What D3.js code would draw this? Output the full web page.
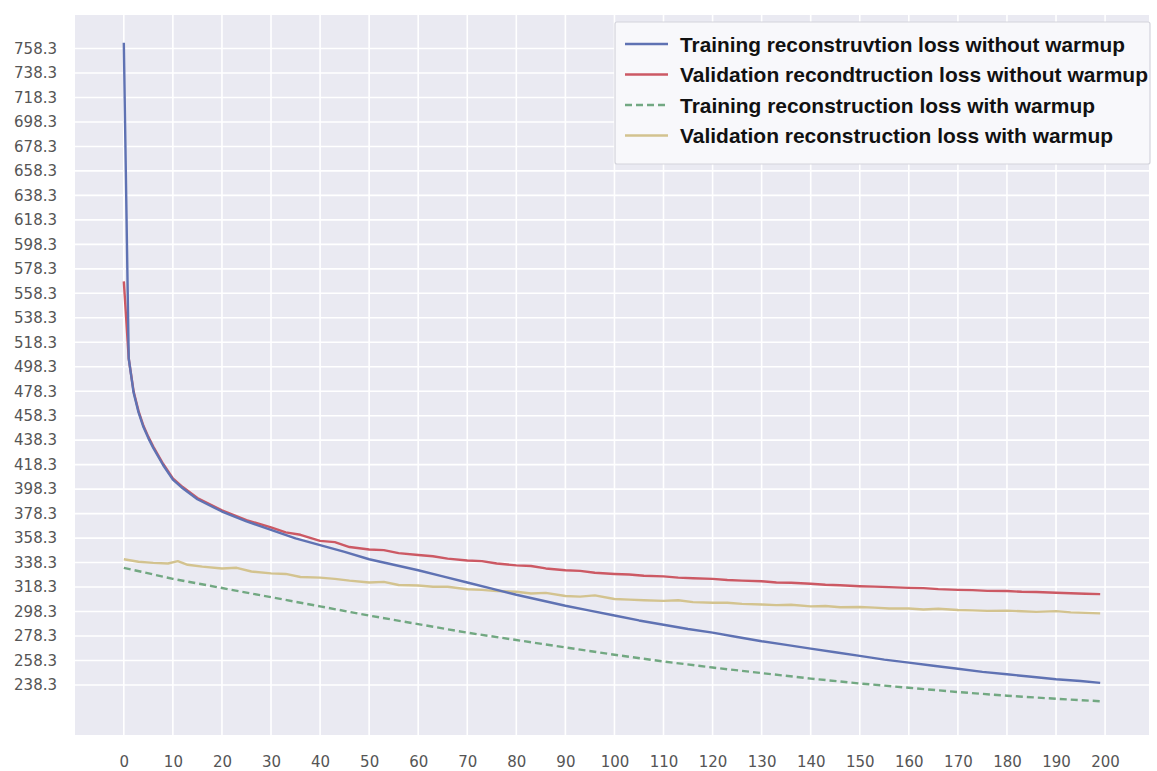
<!DOCTYPE html>
<html>
<head>
<meta charset="utf-8">
<script src="https://cdn.jsdelivr.net/npm/d3@7"></script>
<style>
  html, body { margin: 0; padding: 0; background: #ffffff; }
  svg { display: block; }
</style>
</head>
<body>
<svg id="chart" width="1157" height="771"></svg>
<script>
// ---------------- DATA ----------------
const seriesNames = [
  "Training reconstruvtion loss without warmup",
  "Validation recondtruction loss without warmup",
  "Training reconstruction loss with warmup",
  "Validation reconstruction loss with warmup"
];

const epochsTrainNoWarm = [0,1,2,3,4,5,6,8,10,12,15,20,25,30,35,40,45,50,55,60,65,70,75,80,85,90,95,100,105,110,115,120,125,130,135,140,145,150,155,160,165,170,175,180,185,190,195,199];
const trainNoWarm = [763,505,477,461,449,440,432,418,406,399,390,380,372,365,358,352.5,347,341,336.5,332,327,322,317,312,307.5,303,299,295,291,287.5,284,281,277.5,274,271,268,265,262,259,256.5,254,251.5,249,247,245,243,241.5,240];

const epochsValNoWarm = [0,1,2,3,4,5,6,8,10,12,15,20,25,30,33,36,40,43,46,50,53,56,60,63,66,70,73,76,80,83,86,90,93,96,100,103,106,110,113,116,120,123,126,130,133,136,140,143,146,150,153,156,160,163,166,170,173,176,180,183,186,190,193,196,199];
const valNoWarm = [568,505,478,462,450,441,433,419,407,400,391,381,373,367,363,361,356,355,351,349,348.5,346,344.5,343.5,341.5,340,339.5,337.5,336,335.5,333.5,332,331.5,330,329,328.5,327.5,327,326,325.5,325,324,323.5,323,322,321.8,321,320.2,319.8,319,318.6,318.2,317.6,317.4,316.6,316,315.8,315.2,315,314.4,314.2,313.6,313.2,312.8,312.5];

const epochsTrainWarm = [0,10,20,30,40,50,60,70,80,90,100,110,120,130,140,150,160,170,180,190,199];
const trainWarm = [334,325,317.5,310,302.5,295,288,281,275,269,263,257.5,252.5,248,243.5,239.5,236,232.5,229.5,227,225];

const epochsValWarm = [0,3,6,9,11,13,16,20,23,26,30,33,36,40,43,46,50,53,56,60,63,66,70,73,76,80,83,86,90,93,96,100,103,106,110,113,116,120,123,126,130,133,136,140,143,146,150,153,156,160,163,166,170,173,176,180,183,186,190,193,196,199];
const valWarm = [341,339,338,337.5,339.5,336.5,335,333.5,334,331,329.5,329,326.5,326,325,323.5,322,322.5,320,319.5,318.5,318.5,316.5,316,315,314.5,313,313.5,311,310.5,311.5,308.5,308,307.5,307,307.5,306,305.5,305.5,304.5,304,303.5,303.8,302.5,302.8,301.8,302,301.5,300.8,300.8,300,300.5,299.5,299.2,298.8,299,298.5,298,298.6,297.6,297.2,296.8];

const xTicks = d3.range(0, 201, 10);
const yTickLabels = ["238.3","258.3","278.3","298.3","318.3","338.3","358.3","378.3","398.3","418.3","438.3","458.3","478.3","498.3","518.3","538.3","558.3","578.3","598.3","618.3","638.3","658.3","678.3","698.3","718.3","738.3","758.3"];

// ---------------- LAYOUT ----------------
const plot = { left: 75, right: 1149, top: 15, bottom: 735 };
const colors = ["#5f72b3", "#cc5964", "#72a882", "#d3c38f"];

const svg = d3.select("#chart");

const x = d3.scaleLinear().domain([-9.95, 208.95]).range([plot.left, plot.right]);
const y = d3.scaleLinear().domain([197.4, 785.7]).range([plot.bottom, plot.top]);

// background
svg.append("rect")
  .attr("x", plot.left).attr("y", plot.top)
  .attr("width", plot.right - plot.left).attr("height", plot.bottom - plot.top)
  .attr("fill", "#eaeaf2");

const yTicks = yTickLabels.map(Number);

// grid
const grid = svg.append("g").attr("stroke", "#ffffff").attr("stroke-width", 1.6);
grid.selectAll("line.v").data(xTicks).enter().append("line")
  .attr("x1", d => x(d)).attr("x2", d => x(d))
  .attr("y1", plot.top).attr("y2", plot.bottom);
grid.selectAll("line.h").data(yTicks).enter().append("line")
  .attr("x1", plot.left).attr("x2", plot.right)
  .attr("y1", d => y(d)).attr("y2", d => y(d));

// axes (labels only, seaborn style)
const xAxis = d3.axisBottom(x).tickValues(xTicks).tickSize(0).tickPadding(0).tickFormat(d3.format("d"));
const gx = svg.append("g").attr("transform", `translate(0,${plot.bottom + 21})`).call(xAxis);
gx.select(".domain").remove();
gx.selectAll("text").attr("fill", "#555").style("font-family", "DejaVu Sans, sans-serif").style("font-size", "15px");

const yAxis = d3.axisLeft(y).tickValues(yTicks).tickSize(0).tickPadding(18).tickFormat((d, i) => yTickLabels[i]);
const gy = svg.append("g").attr("transform", `translate(${plot.left},0)`).call(yAxis);
gy.select(".domain").remove();
gy.selectAll("text").attr("fill", "#555").style("font-family", "DejaVu Sans, sans-serif").style("font-size", "15px");

// lines
const line = d3.line().x(d => x(d[0])).y(d => y(d[1]));
const zipped = [
  d3.zip(epochsTrainNoWarm, trainNoWarm),
  d3.zip(epochsValNoWarm, valNoWarm),
  d3.zip(epochsTrainWarm, trainWarm),
  d3.zip(epochsValWarm, valWarm)
];
const drawOrder = [3, 2, 1, 0];
const clip = svg.append("clipPath").attr("id", "clip").append("rect")
  .attr("x", plot.left).attr("y", plot.top)
  .attr("width", plot.right - plot.left).attr("height", plot.bottom - plot.top);
const gl = svg.append("g").attr("clip-path", "url(#clip)");
drawOrder.forEach(i => {
  gl.append("path")
    .attr("d", line(zipped[i]))
    .attr("fill", "none")
    .attr("stroke", colors[i])
    .attr("stroke-width", i === 2 ? 2.4 : 2.4)
    .attr("stroke-dasharray", i === 2 ? "7,4" : null)
    .attr("stroke-linejoin", "round");
});

// legend
const leg = svg.append("g");
leg.append("rect")
  .attr("x", 615).attr("y", 22).attr("width", 535).attr("height", 142)
  .attr("fill", "#f8f8fb").attr("stroke", "#d4d4dc").attr("stroke-width", 1.2).attr("rx", 2);
const legWidths = [445, 468, 415, 433];
seriesNames.forEach((name, i) => {
  const cy = 44 + i * 30.5;
  leg.append("line")
    .attr("x1", 625).attr("x2", 668).attr("y1", cy).attr("y2", cy)
    .attr("stroke", colors[i]).attr("stroke-width", 2.6)
    .attr("stroke-dasharray", i === 2 ? "7,4" : null);
  leg.append("text")
    .attr("x", 680).attr("y", cy + 7.5)
    .attr("textLength", legWidths[i]).attr("lengthAdjust", "spacingAndGlyphs")
    .style("font-family", "Liberation Sans, Arial, sans-serif")
    .style("font-weight", "bold").style("font-size", "21px")
    .attr("fill", "#111")
    .text(name);
});
</script>
</body>
</html>
